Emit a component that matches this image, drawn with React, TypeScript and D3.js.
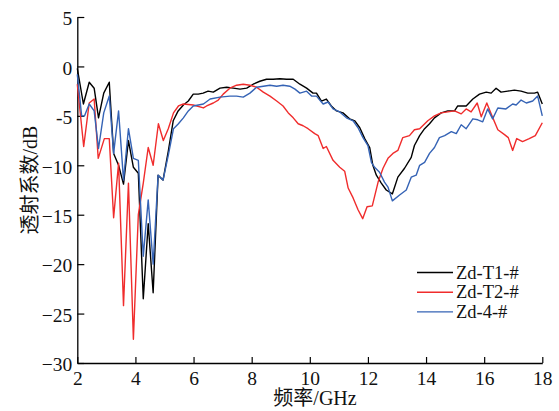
import React, { useEffect, useRef } from 'react';
import * as d3 from 'd3';

// axis ticks
const xTicks = [2, 4, 6, 8, 10, 12, 14, 16, 18];
const yTicks = [5, 0, -5, -10, -15, -20, -25, -30];
const yTickLabels = ['5', '0', '-5', '−10', '−15', '−20', '−25', '−30'];

// [frequency GHz, transmission dB]
const zdT1: [number, number][] = [
  [2.0, -0.2], [2.21, -3.8], [2.41, -1.6], [2.58, -2.2], [2.73, -5.2], [2.91, -2.7], [3.1, -1.6],
  [3.25, -8.8], [3.42, -10.0], [3.59, -11.9], [3.76, -7.5], [3.93, -10.2], [4.1, -10.8], [4.27, -23.5],
  [4.44, -15.9], [4.61, -22.9], [4.78, -11.0], [4.95, -11.5], [5.13, -8.6], [5.3, -5.5], [5.47, -4.5],
  [5.65, -3.9], [5.82, -3.5], [5.99, -2.8], [6.16, -2.8], [6.33, -2.7], [6.5, -2.5], [6.68, -2.6],
  [6.91, -2.2], [7.14, -2.1], [7.37, -2.2], [7.6, -2.3], [7.83, -2.2], [8.05, -1.8], [8.28, -1.5],
  [8.51, -1.3], [8.74, -1.3], [8.97, -1.25], [9.2, -1.3], [9.43, -1.3], [9.66, -1.8], [9.89, -2.2],
  [10.11, -2.7], [10.23, -2.7], [10.4, -3.5], [10.57, -3.3], [10.74, -4.0], [10.92, -4.5], [11.14, -4.7],
  [11.37, -5.3], [11.55, -5.5], [11.72, -6.2], [11.89, -7.3], [12.06, -8.2], [12.17, -10.0], [12.29, -11.0],
  [12.46, -11.8], [12.63, -12.5], [12.84, -12.9], [13.03, -11.2], [13.26, -10.3], [13.49, -9.2], [13.6, -8.0],
  [13.78, -7.0], [13.95, -6.3], [14.12, -5.8], [14.29, -5.2], [14.52, -4.7], [14.75, -4.5], [14.98, -4.5],
  [15.09, -4.0], [15.38, -4.0], [15.61, -3.3], [15.84, -2.8], [16.07, -2.6], [16.24, -2.7], [16.41, -2.2],
  [16.58, -2.6], [16.81, -2.5], [17.04, -2.4], [17.27, -2.5], [17.5, -2.7], [17.73, -2.7], [17.84, -2.6],
  [18.0, -3.8],
];

const zdT2: [number, number][] = [
  [2.0, -1.8], [2.22, -8.1], [2.41, -3.7], [2.58, -3.3], [2.72, -9.3], [2.93, -7.3], [3.1, -7.3],
  [3.25, -15.3], [3.42, -9.8], [3.59, -24.2], [3.76, -11.8], [3.93, -27.6], [4.1, -15.0], [4.27, -11.8],
  [4.44, -8.2], [4.61, -10.0], [4.79, -5.8], [4.96, -7.5], [5.13, -6.3], [5.31, -4.7], [5.48, -4.0],
  [5.65, -3.8], [5.99, -3.9], [6.34, -4.2], [6.45, -4.0], [6.68, -3.7], [6.85, -3.4], [7.02, -2.8],
  [7.25, -2.2], [7.48, -1.9], [7.71, -1.8], [7.94, -1.9], [8.17, -2.1], [8.4, -2.6], [8.63, -3.0],
  [8.86, -3.5], [9.08, -4.0], [9.26, -4.7], [9.43, -5.2], [9.6, -5.8], [9.77, -6.0], [9.94, -6.3],
  [10.17, -6.8], [10.29, -7.0], [10.46, -8.3], [10.57, -8.1], [10.8, -9.5], [11.03, -10.2], [11.2, -10.6],
  [11.32, -12.3], [11.49, -13.3], [11.66, -14.5], [11.82, -15.4], [11.97, -14.2], [12.15, -14.1],
  [12.35, -11.7], [12.52, -10.3], [12.69, -9.3], [12.86, -8.8], [13.03, -8.5], [13.2, -7.2], [13.43, -7.0],
  [13.6, -6.4], [13.78, -6.3], [14.06, -5.5], [14.29, -5.0], [14.52, -4.7], [14.75, -4.6], [14.98, -4.5],
  [15.21, -4.8], [15.38, -4.3], [15.55, -4.6], [15.76, -3.7], [15.9, -5.1], [16.09, -3.7], [16.24, -4.8],
  [16.47, -6.4], [16.7, -6.9], [16.83, -7.2], [16.98, -8.5], [17.12, -7.3], [17.32, -7.6], [17.55, -7.3],
  [17.76, -7.0], [18.0, -5.7],
];

const zd4: [number, number][] = [
  [2.0, -0.8], [2.15, -5.0], [2.25, -5.0], [2.41, -3.8], [2.58, -4.5], [2.73, -8.3], [2.91, -4.7],
  [3.1, -3.0], [3.25, -8.8], [3.42, -4.5], [3.59, -11.5], [3.76, -6.3], [3.93, -9.3], [4.1, -9.5],
  [4.27, -19.2], [4.44, -13.5], [4.61, -20.0], [4.78, -11.0], [4.95, -11.5], [5.13, -9.0], [5.31, -6.3],
  [5.48, -5.8], [5.65, -5.2], [5.82, -4.5], [5.99, -4.0], [6.34, -3.8], [6.57, -3.3], [6.91, -3.1],
  [7.25, -3.0], [7.48, -3.0], [7.71, -3.1], [7.94, -2.7], [8.17, -2.1], [8.4, -2.0], [8.63, -1.9],
  [8.86, -2.0], [9.08, -1.9], [9.31, -2.0], [9.49, -2.3], [9.66, -2.7], [9.89, -2.5], [10.06, -3.0],
  [10.23, -3.0], [10.4, -3.6], [10.46, -3.8], [10.63, -3.6], [10.8, -4.3], [11.03, -4.6], [11.26, -5.2],
  [11.49, -5.5], [11.66, -6.2], [11.83, -7.2], [12.0, -8.0], [12.12, -9.7], [12.23, -10.2], [12.4, -10.7],
  [12.57, -11.7], [12.69, -12.2], [12.84, -13.6], [13.09, -13.0], [13.32, -12.5], [13.49, -11.2],
  [13.66, -11.0], [13.78, -10.0], [13.95, -9.7], [14.12, -8.8], [14.29, -8.2], [14.46, -7.2], [14.64, -7.0],
  [14.87, -6.6], [15.04, -6.8], [15.21, -5.9], [15.38, -6.3], [15.61, -5.3], [15.78, -5.4], [15.95, -5.6],
  [16.12, -4.3], [16.29, -5.3], [16.47, -4.2], [16.75, -4.3], [16.98, -3.8], [17.1, -3.9], [17.27, -3.4],
  [17.45, -3.7], [17.67, -3.5], [17.84, -3.0], [18.0, -5.0],
];

const seriesNames = ['Zd-T1-#', 'Zd-T2-#', 'Zd-4-#'];
const seriesData = [zdT1, zdT2, zd4];
const seriesColors = ['#000000', '#f02c2c', '#3563b5'];

const SERIF = '"Liberation Serif", "Times New Roman", "Noto Sans CJK SC", serif';

export default function App() {
  const ref = useRef<SVGSVGElement>(null);

  useEffect(() => {
    const svg = d3.select(ref.current);
    svg.selectAll('*').remove();

    const x = d3.scaleLinear().domain([2, 18]).range([77.3, 542.3]);
    const y = d3.scaleLinear().domain([-30, 5]).range([363, 17]);

    // axes (ticks pointing inward)
    const gx = svg.append('g')
      .attr('transform', `translate(0, ${y(-30)})`)
      .call(d3.axisBottom(x).tickValues(xTicks).tickSize(-6).tickSizeOuter(0).tickPadding(8)
        .tickFormat(d => String(d)));
    const gy = svg.append('g')
      .attr('transform', `translate(${x(2)}, 0)`)
      .call(d3.axisLeft(y).tickValues(yTicks).tickSize(-7).tickSizeOuter(0).tickPadding(5)
        .tickFormat((d, i) => yTickLabels[i]));
    for (const g of [gx, gy]) {
      g.select('.domain').attr('stroke-width', 1.3);
      g.selectAll('.tick line').attr('stroke-width', 1.2);
      g.selectAll('.tick text').attr('font-family', SERIF).attr('font-size', 19.5).attr('fill', '#111');
    }
    gy.selectAll('.tick text').attr('dy', '0.4em');

    // series lines
    const line = d3.line<[number, number]>()
      .x(d => x(d[0]))
      .y(d => y(d[1]));
    seriesData.forEach((s, i) => {
      svg.append('path')
        .datum(s)
        .attr('fill', 'none')
        .attr('stroke', seriesColors[i])
        .attr('stroke-width', 1.4)
        .attr('stroke-linejoin', 'round')
        .attr('d', line);
    });

    // legend
    const lg = svg.append('g').attr('transform', 'translate(417, 272.5)');
    seriesNames.forEach((name, i) => {
      lg.append('line')
        .attr('x1', 0).attr('x2', 36)
        .attr('y1', i * 19.7).attr('y2', i * 19.7)
        .attr('stroke', seriesColors[i])
        .attr('stroke-width', 1.4);
      lg.append('text')
        .attr('x', 39).attr('y', i * 19.7 + 6)
        .attr('font-family', SERIF)
        .attr('font-size', 18.5)
        .attr('fill', '#111')
        .text(name);
    });

    // axis titles
    svg.append('text')
      .attr('x', 315).attr('y', 405)
      .attr('text-anchor', 'middle')
      .attr('font-family', SERIF)
      .attr('font-size', 20)
      .attr('fill', '#111')
      .text('频率/GHz');
    svg.append('text')
      .attr('transform', 'translate(37, 180) rotate(-90)')
      .attr('text-anchor', 'middle')
      .attr('font-family', SERIF)
      .attr('font-size', 20)
      .attr('fill', '#111')
      .text('透射系数/dB');
  }, []);

  return (
    <svg ref={ref} width={559} height={411}
      style={{ position: 'absolute', left: 0, top: 0, background: '#fff' }} />
  );
}
